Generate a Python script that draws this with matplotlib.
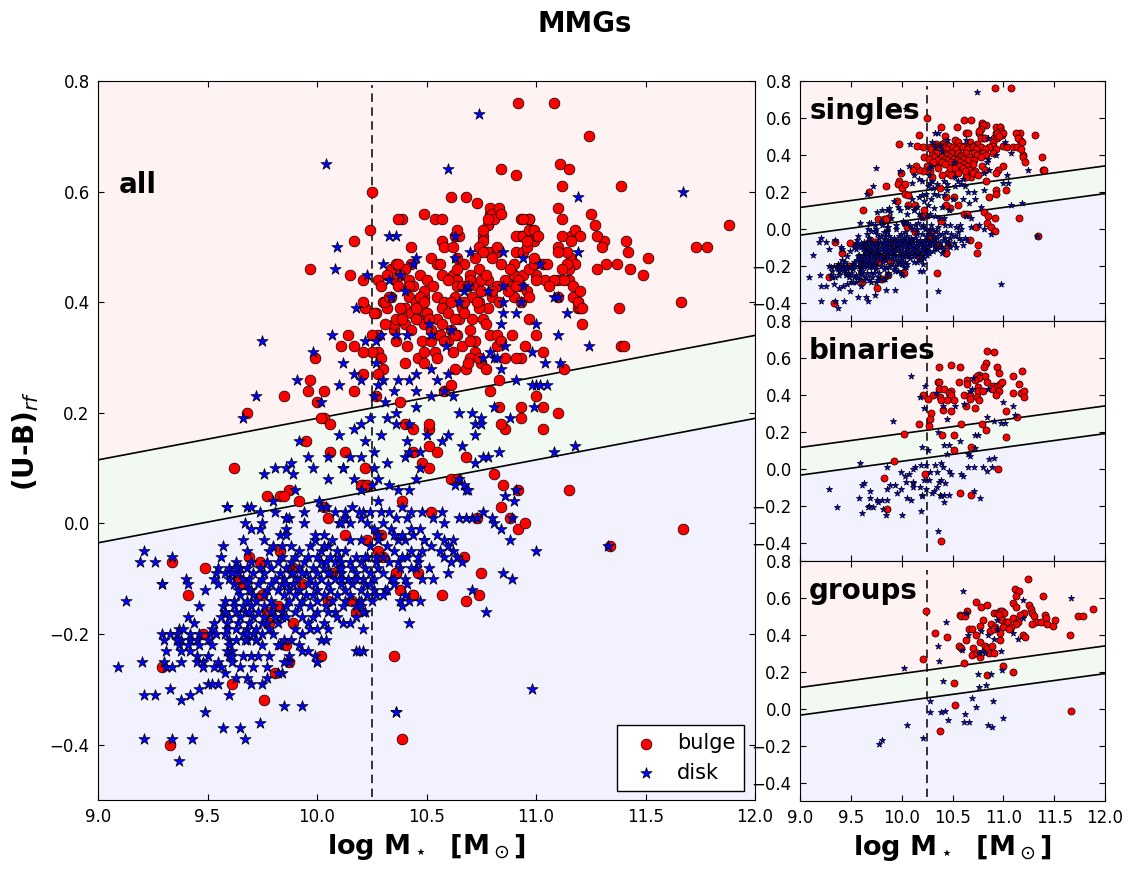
# MMGs colour-mass diagram, all / singles / binaries / groups
import numpy as np
import matplotlib
matplotlib.use("Agg")
import matplotlib.pyplot as plt

binaries_bulge = [(10.84,0.64),(10.91,0.63),(10.37,0.55),(10.49,0.56),(10.57,0.55),(10.83,0.57),(10.81,0.55),(10.94,0.55),
    (10.96,0.52),(11.18,0.53),(11.10,0.50),(11.15,0.46),(10.76,0.51),(10.74,0.50),(10.82,0.50),(10.76,0.49),(10.72,0.48),
    (10.64,0.48),(10.64,0.46),(10.56,0.47),(10.36,0.47),(10.37,0.47),(10.84,0.47),(10.90,0.45),(10.94,0.45),(10.97,0.46),
    (10.99,0.47),(10.37,0.43),(10.42,0.43),(10.49,0.42),(10.47,0.41),(10.49,0.40),(10.31,0.40),(10.21,0.40),(10.26,0.38),
    (10.38,0.39),(10.39,0.37),(10.45,0.37),(10.51,0.37),(10.61,0.40),(10.67,0.40),(10.67,0.38),(10.75,0.44),(10.75,0.42),
    (10.80,0.42),(10.89,0.43),(10.96,0.42),(10.93,0.40),(10.74,0.39),(10.76,0.37),(11.10,0.41),(11.17,0.41),(11.20,0.42),
    (11.20,0.39),(10.41,0.32),(10.49,0.31),(10.63,0.34),(10.72,0.33),(10.29,0.30),(10.28,0.27),(10.17,0.24),(10.27,0.23),
    (10.58,0.24),(10.79,0.24),(10.83,0.21),(11.03,0.31),(11.13,0.28),(10.02,0.19),(10.40,0.18),(10.51,0.18),(11.03,0.17),
    (10.68,0.12),(10.51,0.10),(9.92,0.04),(10.95,0.00),(9.83,-0.05),(10.23,-0.03),(10.57,-0.13),(10.68,-0.14),(9.86,-0.22),
    (10.39,-0.39)]
binaries_disk = [(10.09,0.50),(10.23,0.45),(10.18,0.39),(10.22,0.33),(9.91,0.26),(10.34,0.41),(10.41,0.34),(10.52,0.34),
    (10.61,0.35),(10.45,0.27),(10.36,0.20),(10.70,0.49),(10.67,0.42),(10.69,0.43),(10.85,0.43),(10.84,0.28),(10.91,0.26),
    (10.98,0.25),(11.02,0.25),(11.00,0.36),(11.10,0.34),(11.11,0.29),(10.20,0.12),(10.26,0.10),(10.42,0.13),(10.47,0.13),
    (10.57,0.15),(10.72,0.18),(10.75,0.18),(10.45,0.08),(10.72,0.11),(10.65,0.08),(10.67,0.07),(10.86,0.05),(10.91,0.06),
    (9.59,0.03),(9.86,0.01),(10.13,0.01),(10.11,0.00),(10.19,0.02),(10.24,0.02),(10.33,0.02),(10.39,0.03),(10.41,0.01),
    (10.65,0.01),(10.71,0.01),(10.80,0.01),(10.89,0.01),(10.84,-0.01),(9.99,-0.02),(10.03,-0.04),(10.07,-0.03),(10.47,-0.01),
    (10.49,-0.03),(10.58,-0.03),(10.60,-0.04),(10.28,-0.02),(10.35,-0.02),(10.04,-0.07),(10.11,-0.07),(10.11,-0.08),
    (10.11,-0.10),(10.18,-0.10),(10.22,-0.06),(10.27,-0.06),(10.24,-0.11),(10.37,-0.07),(10.39,-0.06),(10.43,-0.08),
    (10.35,-0.10),(10.32,-0.12),(10.30,-0.13),(9.99,-0.11),(9.95,-0.13),(9.93,-0.09),(9.89,-0.09),(9.86,-0.11),(9.69,-0.12),
    (9.63,-0.08),(9.61,-0.09),(9.29,-0.11),(9.58,-0.16),(9.69,-0.16),(9.76,-0.17),(9.77,-0.18),(9.81,-0.17),(9.86,-0.17),
    (10.05,-0.16),(10.09,-0.17),(10.20,-0.14),(10.20,-0.15),(10.38,-0.14),(10.39,-0.15),(10.42,-0.14),(10.47,-0.14),
    (10.42,-0.18),(10.71,-0.12),(10.77,-0.16),(9.36,-0.21),(9.61,-0.24),(9.67,-0.21),(9.68,-0.20),(9.72,-0.21),(9.82,-0.22),
    (9.85,-0.25),(10.00,-0.25),(10.19,-0.23),(10.36,-0.34)]

groups_bulge = [(11.24,0.70),(11.11,0.65),(11.15,0.64),(11.12,0.61),(11.39,0.61),(10.73,0.58),(11.10,0.57),(11.12,0.55),
    (10.78,0.55),(10.84,0.56),(11.25,0.56),(11.27,0.54),(11.88,0.54),(10.64,0.53),(10.24,0.53),(10.57,0.51),(10.58,0.50),
    (10.62,0.50),(10.91,0.52),(10.94,0.52),(10.97,0.53),(10.99,0.53),(11.01,0.52),(10.96,0.51),(11.20,0.52),(11.16,0.51),
    (11.28,0.52),(11.30,0.50),(11.41,0.51),(11.42,0.49),(11.73,0.50),(11.78,0.50),(10.80,0.48),(10.99,0.48),(11.03,0.47),
    (11.05,0.47),(11.10,0.49),(11.14,0.47),(11.32,0.47),(11.37,0.47),(11.51,0.48),(10.88,0.46),(10.77,0.45),(11.28,0.46),
    (11.43,0.46),(11.49,0.45),(11.12,0.46),(10.92,0.44),(11.00,0.44),(11.08,0.44),(10.66,0.43),(10.69,0.43),(10.87,0.42),
    (10.91,0.43),(10.97,0.41),(11.06,0.43),(10.33,0.41),(10.73,0.40),(11.19,0.40),(11.21,0.39),(10.45,0.39),(11.66,0.40),
    (10.63,0.37),(10.97,0.37),(10.77,0.36),(10.56,0.34),(10.58,0.33),(10.82,0.34),(10.84,0.33),(10.89,0.34),(10.70,0.33),
    (10.69,0.29),(10.74,0.30),(10.77,0.28),(10.86,0.30),(10.91,0.30),(10.21,0.27),(10.61,0.25),(11.00,0.23),(11.10,0.20),
    (10.84,0.18),(10.51,0.14),(10.52,0.02),(11.67,-0.01),(10.38,-0.12)]
groups_disk = [(10.60,0.64),(11.67,0.60),(11.19,0.59),(10.63,0.52),(10.44,0.47),(10.94,0.48),(11.19,0.49),(10.65,0.40),
    (10.78,0.42),(10.85,0.40),(10.94,0.43),(11.10,0.41),(11.14,0.38),(10.91,0.38),(10.36,0.34),(10.59,0.32),(10.79,0.31),
    (10.76,0.30),(10.82,0.30),(10.98,0.31),(10.37,0.26),(10.02,0.22),(10.99,0.21),(10.75,0.19),(10.88,0.19),(10.41,0.15),
    (10.83,0.13),(10.76,0.12),(10.69,0.06),(10.90,0.04),(10.28,0.04),(10.73,0.01),(10.28,-0.02),(10.39,-0.02),(10.43,-0.01),
    (10.62,-0.03),(10.46,-0.06),(10.61,-0.07),(10.66,-0.07),(11.00,-0.05),(10.85,-0.09),(10.89,-0.10),(10.05,-0.09),
    (10.21,-0.16),(9.81,-0.17),(9.78,-0.19)]

singles_bulge = [(10.92,0.76),(11.08,0.76),(10.25,0.60),(10.61,0.59),(10.68,0.59),(10.39,0.55),(10.54,0.55),(10.79,0.56),
    (10.83,0.56),(10.97,0.55),(10.76,0.52),(10.17,0.51),(9.97,0.46),(10.15,0.45),(10.21,0.44),(10.22,0.39),(10.43,0.50),
    (10.43,0.47),(10.52,0.48),(10.55,0.47),(10.63,0.52),(10.65,0.52),(10.67,0.47),(10.62,0.45),(10.64,0.44),(10.74,0.46),
    (10.80,0.49),(10.78,0.49),(10.82,0.49),(10.91,0.49),(10.93,0.52),(10.99,0.51),(10.94,0.49),(10.90,0.47),(10.90,0.45),
    (11.16,0.52),(11.16,0.48),(11.31,0.51),(11.00,0.45),(11.04,0.44),(11.10,0.44),(11.15,0.44),(11.19,0.40),(11.19,0.39),
    (11.21,0.36),(11.38,0.39),(11.39,0.32),(11.40,0.32),(11.00,0.34),(10.95,0.32),(10.93,0.30),(10.83,0.26),(10.93,0.21),
    (11.03,0.21),(10.93,0.19),(10.86,0.17),(10.81,0.09),(10.85,0.07),(10.92,0.06),(10.84,0.03),(10.88,0.01),(10.92,-0.01),
    (11.15,0.06),(11.34,-0.04),(10.73,0.01),(10.75,-0.09),(10.74,-0.13),(10.67,-0.06),(10.35,-0.24),(10.44,-0.13),(10.46,-0.09),
    (10.36,-0.09),(10.39,0.04),(10.61,0.08),(10.64,0.08),(10.55,0.13),(10.48,0.11),(10.44,0.13),(10.51,0.17),(10.44,0.17),
    (10.38,0.22),(10.68,0.28),(10.63,0.28),(10.54,0.31),(10.46,0.30),(10.35,0.35),(10.35,0.36),(10.30,0.28),(10.28,0.34),
    (10.28,0.31),(10.25,0.31),(10.25,0.34),(10.21,0.31),(10.17,0.32),(10.14,0.34),(10.11,0.32),(9.99,0.30),(9.97,0.26),
    (9.96,0.24),(10.00,0.22),(10.03,0.24),(10.03,0.19),(10.06,0.18),(9.85,0.23),(9.68,0.20),(9.95,0.15),(10.06,0.13),
    (10.13,0.13),(9.62,0.10),(9.77,0.05),(9.83,0.05),(9.87,0.06),(9.85,0.05),(10.03,0.03),(10.05,0.01),(10.13,-0.02),
    (10.21,0.07),(10.22,0.10),(10.28,-0.02),(9.34,-0.07),(9.49,-0.08),(9.41,-0.13),(9.29,-0.26),(9.33,-0.40),(9.48,-0.20),
    (9.61,-0.29),(9.76,-0.32),(9.81,-0.27),(9.87,-0.25),(10.02,-0.24),(9.69,-0.06),(9.74,-0.07),(9.89,-0.08),(10.07,-0.09),
    (10.18,-0.16),(9.77,-0.16),(9.82,-0.15),(9.75,-0.13),(9.66,-0.11),(9.64,-0.10),(9.93,-0.11),(9.78,-0.18),(9.89,-0.18),
    (10.05,-0.14),(10.16,-0.14),(10.29,-0.02),(10.28,-0.05),(10.30,-0.06),(10.36,-0.09),(10.44,-0.13),(10.20,0.07),(10.23,0.07),
    # dense part of the red cloud
    (10.79,0.57),(10.80,0.56),(10.78,0.54),(10.76,0.53),(10.93,0.55),(10.97,0.55),(10.98,0.53),(11.00,0.52),(10.94,0.52),
    (10.96,0.50),(11.12,0.52),(11.14,0.49),(11.18,0.47),(11.13,0.44),(11.17,0.43),
    (10.34,0.46),(10.40,0.46),(10.32,0.45),(10.38,0.45),(10.47,0.45),(10.57,0.45),(10.70,0.45),(10.28,0.44),(10.36,0.44),
    (10.42,0.44),(10.50,0.44),(10.60,0.44),(10.70,0.44),(10.78,0.44),(10.86,0.44),(10.29,0.43),(10.44,0.43),(10.53,0.43),
    (10.64,0.43),(10.73,0.43),(10.82,0.43),(10.93,0.43),(10.34,0.41),(10.42,0.41),(10.49,0.41),(10.55,0.41),(10.63,0.41),
    (10.71,0.41),(10.80,0.41),(10.90,0.41),(10.30,0.40),(10.45,0.40),(10.58,0.40),(10.74,0.40),(10.83,0.40),(10.32,0.39),
    (10.40,0.39),(10.48,0.39),(10.57,0.39),(10.66,0.39),(10.78,0.39),(10.27,0.38),(10.43,0.38),(10.50,0.38),(10.60,0.38),
    (10.36,0.37),(10.46,0.37),(10.55,0.37),(10.65,0.37),(10.71,0.37),(10.31,0.36),(10.40,0.36),(10.49,0.36),(10.57,0.36),
    (10.43,0.35),(10.52,0.35),(10.61,0.35),(10.70,0.35),(10.56,0.34),(10.64,0.34),(10.79,0.34),(10.36,0.33),(10.48,0.33),
    (10.52,0.33),(10.60,0.33),(10.66,0.32),(10.72,0.31),(10.82,0.32),(10.55,0.30),(10.62,0.31),(10.70,0.30),(10.75,0.29),
    (10.40,0.29),(10.49,0.29)]

singles_disk = [(10.74,0.74),(10.04,0.65),(10.08,0.46),(9.75,0.33),(9.72,0.23),(9.66,0.19),(10.33,0.52),(10.36,0.52),(10.85,0.49),
    (11.02,0.47),(10.63,0.48),(10.45,0.48),(10.30,0.47),(11.08,0.41),(10.93,0.40),(10.85,0.38),(11.24,0.32),(11.04,0.29),
    (11.00,0.25),(11.05,0.25),(10.81,0.21),(9.98,0.31),(10.07,0.34),(10.33,0.44),(10.38,0.45),(10.40,0.42),(10.51,0.36),
    (10.29,0.34),(10.27,0.33),(10.12,0.29),(10.17,0.27),(10.20,0.26),(10.10,0.25),(10.27,0.29),(10.30,0.26),(10.28,0.25),
    (10.26,0.23),(10.31,0.22),(10.35,0.24),(10.42,0.26),(10.45,0.24),(10.52,0.28),(10.55,0.26),(10.60,0.27),(10.62,0.23),
    (10.52,0.23),(10.45,0.21),(10.58,0.24),(10.65,0.20),(10.71,0.20),(10.81,0.30),(10.84,0.36),(10.86,0.32),(10.32,0.19),
    (10.24,0.19),(10.20,0.18),(10.36,0.18),(10.42,0.18),(10.50,0.16),(10.29,0.16),(10.22,0.15),(10.17,0.17),(10.10,0.16),
    (10.05,0.12),(9.92,0.15),(9.96,0.12),(10.15,0.12),(10.12,0.10),(10.26,0.13),(10.32,0.11),(10.40,0.12),(10.47,0.10),
    (10.60,0.16),(10.66,0.14),(10.72,0.16),(10.78,0.12),(11.08,0.13),(11.18,0.14),(9.81,0.10),(9.86,0.10),(9.88,0.11),
    (9.89,0.09),(9.98,0.10),(10.05,0.08),(10.12,0.10),(10.17,0.08),(10.20,0.06),(10.25,0.07),(10.28,0.08),(10.33,0.07),
    (10.37,0.06),(10.42,0.06),(10.63,0.07),(10.68,0.06),(9.76,0.09),(9.68,0.03),(9.70,0.03),(9.74,0.02),(9.80,0.04),(9.81,0.02),
    (9.90,0.06),(10.01,0.04),(10.02,0.03),(10.04,0.03),(10.08,0.02),(10.13,0.02),(10.16,0.03),(10.21,0.02),(10.29,0.02),
    (10.36,0.01),(10.43,0.02),(10.48,0.02),(10.53,0.01),(10.57,0.02),(10.68,0.01),(10.76,0.02),(10.81,0.00),(10.88,-0.03),
    (9.34,-0.39),(9.21,-0.39),(9.37,-0.43),(9.43,-0.39),(9.57,-0.37),(9.65,-0.37),(9.67,-0.39),(9.74,-0.36),(9.85,-0.33),
    (9.93,-0.33),(10.36,-0.34),(10.98,-0.30),(11.33,-0.04),(9.49,-0.34),(9.60,-0.31),(9.42,-0.31),(9.21,-0.31),(9.26,-0.31),
    (9.38,-0.32),(9.33,-0.30),(9.46,-0.30),(9.50,-0.29),(9.55,-0.29),(9.52,-0.29),(9.70,-0.29),(9.75,-0.29),(9.84,-0.27),
    (9.77,-0.26),(9.68,-0.28),(9.58,-0.27),(9.63,-0.28),(9.09,-0.26),(9.13,-0.14),(9.20,-0.25),(9.19,-0.07),(9.21,-0.05),
    (9.26,-0.07),(9.34,-0.06),(9.29,-0.11),(9.40,-0.10),(9.41,-0.11),(9.49,-0.12),(9.57,-0.04),(9.56,-0.06),(9.59,0.03),
    (9.66,-0.03),(9.67,0.00),(9.68,-0.05),(9.70,-0.01),(9.75,0.00),(9.74,-0.01),(9.86,0.01),(9.87,0.01),(9.86,-0.01),
    (9.83,-0.02),(9.86,-0.02),(9.94,0.02),(9.94,0.00),(9.99,-0.03),(10.03,-0.02),(10.10,0.00),(10.15,0.00),(10.20,0.01),
    (10.23,0.00),(10.26,-0.01),(10.30,0.00),(10.34,-0.01),(10.40,-0.03),(10.44,-0.02),(10.49,-0.03),(10.55,-0.02),(10.58,0.00),
    (9.76,-0.03),(9.80,-0.04),(9.84,-0.04),(9.88,-0.04),(9.92,-0.05),(9.97,-0.04),(10.02,-0.05),(10.05,-0.04),(10.09,-0.05),
    (10.15,-0.03),(10.20,-0.03),(10.24,-0.04),(10.28,-0.03),(10.32,-0.04),(10.37,-0.03),(10.43,-0.05),(10.48,-0.05),(10.52,-0.04),
    (9.78,-0.05),(9.84,-0.06),(9.90,-0.06),(9.96,-0.06),(10.00,-0.06),(10.06,-0.06),(10.10,-0.06),(10.13,-0.05),(10.18,-0.06),
    (10.23,-0.06),(10.30,-0.06),(10.35,-0.05),(10.41,-0.06),(10.46,-0.07),(10.56,-0.05),(10.62,-0.05),(9.63,-0.07),(9.70,-0.07),
    (9.77,-0.07),(9.82,-0.07),(9.88,-0.07),(9.94,-0.07),(10.02,-0.07),(10.08,-0.07),(10.15,-0.07),(10.20,-0.07),(10.27,-0.07),
    (10.33,-0.07),(10.38,-0.08),(10.45,-0.08),(10.51,-0.08),(10.58,-0.06),(10.64,-0.06),(9.55,-0.08),(9.60,-0.08),(9.65,-0.08),
    (9.68,-0.08),(9.74,-0.08),(9.79,-0.08),(9.86,-0.08),(9.92,-0.08),(9.98,-0.08),(10.03,-0.08),(10.10,-0.08),(10.16,-0.08),
    (10.22,-0.08),(10.28,-0.08),(10.60,-0.09),(10.53,-0.10),(10.48,-0.10),(9.54,-0.09),(9.58,-0.09),(9.64,-0.09),(9.71,-0.09),
    (9.76,-0.09),(9.83,-0.09),(9.88,-0.09),(9.95,-0.09),(10.00,-0.09),(10.06,-0.09),(10.11,-0.09),(10.18,-0.09),(10.24,-0.09),
    (10.30,-0.09),(10.34,-0.10),(10.40,-0.10),(9.53,-0.10),(9.60,-0.10),(9.66,-0.10),(9.69,-0.10),(9.75,-0.10),(9.81,-0.10),
    (9.85,-0.10),(9.91,-0.10),(9.97,-0.10),(10.02,-0.10),(10.08,-0.10),(10.14,-0.10),(10.21,-0.10),(10.26,-0.10),(10.35,-0.11),
    (10.41,-0.11),(9.55,-0.11),(9.62,-0.11),(9.68,-0.11),(9.73,-0.11),(9.79,-0.11),(9.84,-0.11),(9.89,-0.11),(9.96,-0.11),
    (10.05,-0.11),(10.11,-0.11),(10.16,-0.11),(10.22,-0.11),(10.31,-0.12),(9.64,-0.12),(9.70,-0.12),(9.77,-0.12),(9.82,-0.12),
    (9.87,-0.12),(9.92,-0.12),(10.00,-0.12),(10.06,-0.12),(10.13,-0.12),(10.20,-0.12),(10.26,-0.12),(9.65,-0.13),(9.71,-0.13),
    (9.76,-0.13),(9.85,-0.13),(9.90,-0.13),(9.98,-0.13),(10.03,-0.13),(10.09,-0.13),(10.15,-0.13),(10.23,-0.13),(10.27,-0.13),
    (10.40,-0.13),(9.58,-0.14),(9.62,-0.14),(9.68,-0.14),(9.72,-0.14),(9.79,-0.14),(9.87,-0.14),(9.93,-0.14),(10.00,-0.14),
    (10.07,-0.14),(10.13,-0.14),(10.19,-0.14),(10.25,-0.14),(9.46,-0.15),(9.57,-0.15),(9.62,-0.15),(9.66,-0.15),(9.70,-0.15),
    (9.76,-0.15),(9.80,-0.15),(9.86,-0.15),(9.92,-0.15),(9.97,-0.15),(10.04,-0.15),(10.12,-0.15),(10.18,-0.15),(9.58,-0.16),
    (9.63,-0.16),(9.67,-0.16),(9.73,-0.16),(9.79,-0.16),(9.84,-0.16),(9.90,-0.16),(10.00,-0.16),(10.08,-0.16),(10.22,-0.16),
    (10.18,-0.17),(9.41,-0.17),(9.56,-0.17),(9.60,-0.17),(9.65,-0.17),(9.71,-0.17),(9.84,-0.17),(9.93,-0.17),(9.98,-0.17),
    (10.15,-0.18),(9.44,-0.18),(9.53,-0.18),(9.59,-0.18),(9.64,-0.18),(9.69,-0.18),(9.75,-0.18),(9.82,-0.18),(9.96,-0.18),
    (10.03,-0.18),(10.12,-0.18),(10.05,-0.19),(9.37,-0.19),(9.39,-0.19),(9.52,-0.19),(9.59,-0.19),(9.63,-0.19),(9.68,-0.19),
    (9.72,-0.19),(9.90,-0.19),(9.97,-0.19),(10.00,-0.19),(10.21,-0.19),(9.29,-0.20),(9.33,-0.20),(9.36,-0.20),(9.42,-0.20),
    (9.46,-0.20),(9.51,-0.20),(9.54,-0.20),(9.58,-0.20),(9.66,-0.20),(9.71,-0.20),(9.75,-0.20),(9.80,-0.20),(9.93,-0.20),
    (9.30,-0.21),(9.36,-0.21),(9.38,-0.21),(9.42,-0.21),(9.45,-0.21),(9.50,-0.21),(9.60,-0.21),(9.63,-0.21),(9.68,-0.21),
    (9.72,-0.21),(9.85,-0.21),(9.88,-0.21),(10.02,-0.21),(10.04,-0.21),(9.37,-0.22),(9.41,-0.22),(9.46,-0.22),(9.52,-0.22),
    (9.60,-0.22),(9.75,-0.22),(9.83,-0.22),(9.92,-0.22),(9.31,-0.23),(9.38,-0.23),(9.42,-0.23),(9.59,-0.23),(9.61,-0.23),
    (9.93,-0.23),(9.96,-0.23),(10.18,-0.23),(10.21,-0.23),(9.45,-0.24),(9.50,-0.24),(9.60,-0.24),(9.66,-0.24),(9.70,-0.24),
    (9.73,-0.24),(9.78,-0.24),(9.87,-0.24),(9.99,-0.24),(9.30,-0.25),(9.38,-0.25),(9.45,-0.25),(9.48,-0.25),(9.55,-0.25),
    (9.61,-0.25),(9.87,-0.25),(10.00,-0.25),(9.31,-0.26),(9.34,-0.26),(9.48,-0.26),(9.53,-0.26),(9.56,-0.26),(9.65,-0.26),
    (9.71,-0.26),(9.82,-0.27),(9.77,-0.28)]

bulge_all = singles_bulge + binaries_bulge + groups_bulge
disk_all = singles_disk + binaries_disk + groups_disk

xticks = [9.0, 9.5, 10.0, 10.5, 11.0, 11.5, 12.0]
yticks = [-0.4, -0.2, 0.0, 0.2, 0.4, 0.6, 0.8]
mass_cut = 10.25
xlabel = r"log M$_\star$  [M$_\odot$]"


def draw_panel(ax, bulge, disk, name, size_b, size_d, name_x, name_y, cut_low, cut_top):
    # colour zones and the two dividing lines
    xx = np.array([9.0, 12.0])
    upper = 0.075 * xx - 0.56
    lower = 0.075 * xx - 0.71
    ax.fill_between(xx, upper, 0.8, color="red", alpha=0.05, lw=0)
    ax.fill_between(xx, lower, upper, color="green", alpha=0.05, lw=0)
    ax.fill_between(xx, -0.5, lower, color="blue", alpha=0.05, lw=0)
    ax.plot(xx, upper, "k-", lw=1.2, zorder=2)
    ax.plot(xx, lower, "k-", lw=1.2, zorder=2)
    ax.plot([mass_cut, mass_cut], [cut_low, cut_top], color="k", lw=1.1, dashes=(5.5, 3.6), zorder=2)

    bx, by = np.array(bulge).T
    dx, dy = np.array(disk).T
    ax.scatter(bx, by, s=size_b, c="red", marker="o", edgecolors="k", linewidths=0.5, zorder=3, label="bulge")
    ax.scatter(dx, dy, s=size_d, c="blue", marker="*", edgecolors="k", linewidths=0.5, zorder=4, label="disk")

    ax.text(name_x, name_y, name, fontsize=20, fontweight="bold", zorder=6)
    ax.set_xlim(9.0, 12.0)
    ax.set_ylim(-0.5, 0.8)
    ax.set_xticks(xticks)
    ax.set_yticks(yticks)
    ax.tick_params(direction="in", top=True, right=True, length=4, width=0.8, labelsize=12, pad=6)


fig = plt.figure(figsize=(11.32, 8.77), dpi=100)
W, H = 1132.0, 877.0
fig.suptitle("MMGs", fontsize=20, fontweight="bold", x=585 / W, y=1 - 32 / H, va="baseline")

# big panel
ax_all = fig.add_axes([98 / W, 1 - 800 / H, 657 / W, 719 / H])
draw_panel(ax_all, bulge_all, disk_all, "all", 60, 72, 9.095, 0.597, -0.495, 0.793)
ax_all.set_xlabel(xlabel, fontsize=19.5, fontweight="bold", labelpad=4)
ax_all.set_ylabel(r"(U-B)$_{rf}$", fontsize=20, fontweight="bold", labelpad=6)
ax_all.legend(loc="lower right", scatterpoints=1, fontsize=15, fancybox=False, edgecolor="k", framealpha=1,
              bbox_to_anchor=(0.983, 0.0125), borderaxespad=0, handletextpad=0.5, borderpad=0.4, labelspacing=0.45)

# three small panels
ax_s = fig.add_axes([800 / W, 1 - 321 / H, 305 / W, 240 / H])
draw_panel(ax_s, singles_bulge, singles_disk, "singles", 26, 22, 9.09, 0.595, -0.45, 0.775)
ax_s.tick_params(labelbottom=False)

ax_b = fig.add_axes([800 / W, 1 - 561 / H, 305 / W, 240 / H])
draw_panel(ax_b, binaries_bulge, binaries_disk, "binaries", 26, 22, 9.08, 0.595, -0.45, 0.775)
ax_b.tick_params(labelbottom=False)

ax_g = fig.add_axes([800 / W, 1 - 801 / H, 305 / W, 240 / H])
draw_panel(ax_g, groups_bulge, groups_disk, "groups", 26, 22, 9.09, 0.595, -0.48, 0.75)
ax_g.set_xlabel(xlabel, fontsize=19.5, fontweight="bold", labelpad=4)

fig.savefig("out.png", dpi=100)
